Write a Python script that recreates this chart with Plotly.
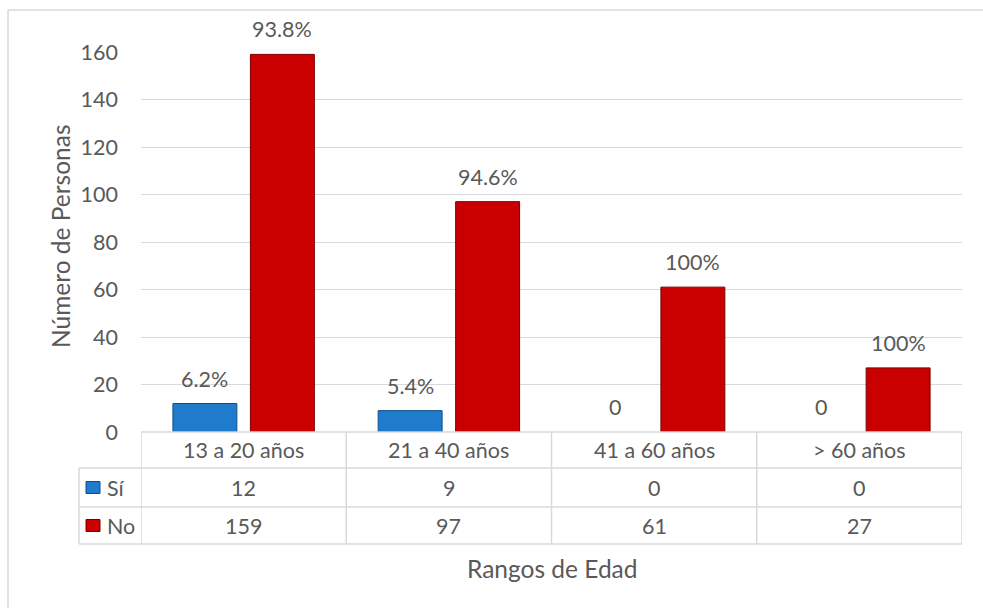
import plotly.graph_objects as go

# Data
categorias = ["13 a 20 años", "21 a 40 años", "41 a 60 años", "> 60 años"]
serie_si = [12, 9, 0, 0]
serie_no = [159, 97, 61, 27]
etiquetas_si = ["6.2%", "5.4%", "0", "0"]
etiquetas_no = ["93.8%", "94.6%", "100%", "100%"]
ticks_y = [0, 20, 40, 60, 80, 100, 120, 140, 160]

W, H = 983, 608
L, R, T, B = 141, 962, 52, 432          # plot area in pixels
FONT = "Lato"
FS = 21.5          # ticks, table and value labels
FS_TITLE = 24.5    # axis titles
TXT = "#595959"
GRID = "#D9D9D9"
AZUL, AZUL_BORDE = "#1F7BCB", "#0F4E8C"
ROJO, ROJO_BORDE = "#CA0000", "#7A0000"

BARGAP = 0.245
BARGROUPGAP = 0.175


def py(p):
    """pixel row -> paper y"""
    return (B - p) / (B - T)


def px(p):
    """pixel column -> paper x"""
    return (p - L) / (R - L)


xs = list(range(len(categorias)))

fig = go.Figure()
fig.add_trace(go.Bar(
    x=xs, y=serie_si, name="Sí",
    marker=dict(color=AZUL, line=dict(color=AZUL_BORDE, width=[1 if v else 0 for v in serie_si])),
))
fig.add_trace(go.Bar(
    x=xs, y=serie_no, name="No",
    marker=dict(color=ROJO, line=dict(color=ROJO_BORDE, width=[1 if v else 0 for v in serie_no])),
))

annotations = []
shapes = []
tfont = dict(family=FONT, size=FS, color=TXT)
title_font = dict(family=FONT, size=FS_TITLE, color=TXT)


def label(**kw):
    base = dict(showarrow=False, xanchor="center", yanchor="middle", font=tfont)
    base.update(kw)
    annotations.append(base)


# value labels above bars
off = (1 - BARGAP) / 4
for i in xs:
    for dx, val, lab in ((-off, serie_si[i], etiquetas_si[i]), (off, serie_no[i], etiquetas_no[i])):
        label(x=i + dx, y=val, xref="x", yref="y", text=lab, yshift=25)

# data table under the plot
row_lines = [B, 468, 507, 544]
y_top, y_h, y_si, y_no = [py(v) for v in row_lines]
x_leg = px(79)
tline = dict(color=GRID, width=1.5)

shapes.append(dict(type="line", xref="paper", yref="paper", x0=0, x1=1, y0=y_top, y1=y_top, line=tline))
for yy in (y_h, y_si, y_no):
    shapes.append(dict(type="line", xref="paper", yref="paper", x0=x_leg, x1=1, y0=yy, y1=yy, line=tline))
for k in range(len(categorias) + 1):
    shapes.append(dict(type="line", xref="x", yref="paper", x0=k - 0.5, x1=k - 0.5,
                       y0=y_top, y1=y_no, line=tline))
shapes.append(dict(type="line", xref="paper", yref="paper", x0=x_leg, x1=x_leg,
                   y0=y_h, y1=y_no, line=tline))

for i, cat in enumerate(categorias):
    label(x=i, y=(y_top + y_h) / 2, xref="x", yref="paper", text=cat)
    label(x=i, y=(y_h + y_si) / 2, xref="x", yref="paper", text=str(serie_si[i]))
    label(x=i, y=(y_si + y_no) / 2, xref="x", yref="paper", text=str(serie_no[i]))

# legend keys inside the table
for (y0, y1, nombre, col, borde) in ((y_h, y_si, "Sí", AZUL, AZUL_BORDE), (y_si, y_no, "No", ROJO, ROJO_BORDE)):
    yc = (y0 + y1) / 2
    half = 6.0 / (B - T)
    shapes.append(dict(type="rect", xref="paper", yref="paper", x0=px(86), x1=px(100),
                       y0=yc - half, y1=yc + half, fillcolor=col, line=dict(color=borde, width=1)))
    label(x=px(105), y=yc, xref="paper", yref="paper", text=nombre, xanchor="left")

# axis titles
label(x=px(552), y=py(568), xref="paper", yref="paper", text="Rangos de Edad", font=title_font)
label(x=px(61), y=py(236), xref="paper", yref="paper", text="Número de Personas",
      textangle=-90, font=title_font)

# outer frame (top and left edges)
shapes.append(dict(type="line", xref="paper", yref="paper", x0=px(8), x1=px(990),
                   y0=py(10), y1=py(10), line=tline))
shapes.append(dict(type="line", xref="paper", yref="paper", x0=px(8), x1=px(8),
                   y0=py(10), y1=py(620), line=tline))

fig.update_layout(
    width=W, height=H,
    margin=dict(l=L, r=W - R, t=T, b=H - B),
    paper_bgcolor="white", plot_bgcolor="white",
    barmode="group", bargap=BARGAP, bargroupgap=BARGROUPGAP,
    showlegend=False,
    font=dict(family=FONT, size=FS, color=TXT),
    xaxis=dict(range=[-0.5, len(categorias) - 0.5], showticklabels=False, showgrid=False,
               zeroline=False, showline=False, fixedrange=True),
    yaxis=dict(range=[0, 160], tickvals=ticks_y, showgrid=True, gridcolor=GRID, gridwidth=1,
               zeroline=False, showline=False, ticks="", ticklabelstandoff=22,
               tickfont=tfont),
    annotations=annotations, shapes=shapes,
)

fig.write_html("out.html")
